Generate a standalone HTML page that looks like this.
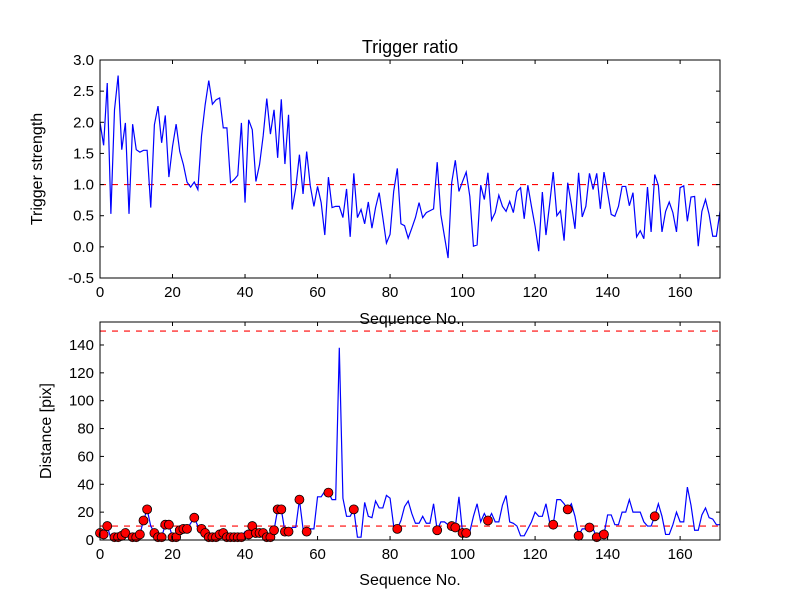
<!DOCTYPE html>
<html><head><meta charset="utf-8"><style>
body{margin:0;background:#fff}
svg text{font-family:"Liberation Sans","DejaVu Sans",sans-serif;fill:#000}
</style></head><body>
<svg id="chart" width="800" height="600" xmlns="http://www.w3.org/2000/svg">
<rect width="800" height="600" fill="#fff"/>
</svg>
<script>
const ratio=[2.0,1.63,2.63,0.53,2.2,2.75,1.56,1.99,0.53,1.97,1.56,1.52,1.55,1.55,0.63,1.96,2.26,1.67,2.11,1.12,1.61,1.97,1.53,1.32,1.04,0.96,1.04,0.92,1.78,2.28,2.67,2.29,2.36,2.39,1.91,1.91,1.03,1.08,1.15,1.99,0.71,2.04,1.88,1.05,1.32,1.78,2.38,1.81,2.2,1.43,2.37,1.33,2.12,0.6,0.95,1.48,0.85,1.53,0.98,0.65,0.97,0.71,0.19,1.12,0.63,0.65,0.65,0.47,0.93,0.16,1.18,0.47,0.6,0.37,0.72,0.3,0.63,0.87,0.47,0.06,0.2,0.89,1.26,0.37,0.34,0.14,0.3,0.47,0.71,0.47,0.55,0.58,0.61,1.36,0.52,0.17,-0.18,1.03,1.39,0.89,1.05,1.2,0.81,0.01,0.03,0.99,0.76,1.19,0.43,0.55,0.83,0.65,0.57,0.73,0.55,0.89,0.95,0.45,0.99,0.65,0.33,-0.07,0.88,0.19,0.68,1.2,0.5,0.58,0.1,1.03,0.68,0.29,1.19,0.48,0.65,1.18,0.92,1.18,0.61,1.2,0.87,0.52,0.49,0.65,0.97,0.97,0.66,0.87,0.16,0.26,0.13,0.96,0.24,1.16,0.99,0.24,0.57,0.72,0.55,0.24,0.95,0.98,0.41,0.8,0.81,0.01,0.57,0.76,0.52,0.17,0.17,0.57];
const distance=[5,4,10,1,2,2,3,5,1,2,2,4,14,22,10,5,2,2,11,11,2,2,7,8,8,12,16,10,8,5,2,2,2,4,5,2,2,2,2,2,6,4,10,5,5,5,2,2,7,22,22,6,6,9,9,29,8,6,8,8,31,31,35,34,29,29,138,30,17,17,22,2,2,27,17,16,28,23,23,32,30,10,8,14,24,28,19,12,12,17,12,12,26,7,13,13,11,10,9,31,5,5,6,17,26,13,19,14,19,13,13,25,32,13,12,10,3,3,8,13,20,17,17,26,13,11,29,29,26,22,26,17,3,8,8,9,8,2,6,4,18,18,11,11,20,20,29,20,20,20,13,10,10,17,26,17,4,4,11,20,13,13,38,25,7,7,18,23,16,15,11,11];
const xTicks=[0,20,40,60,80,100,120,140,160];
const topYTicks=[-0.5,0,0.5,1,1.5,2,2.5,3];
const botYTicks=[0,20,40,60,80,100,120,140];
const ratioThreshold=1, distThreshold=10, distLimit=150;

const NS='http://www.w3.org/2000/svg';
const svg=document.getElementById('chart');
function mk(tag,attrs,parent){const e=document.createElementNS(NS,tag);for(const k in attrs)e.setAttribute(k,attrs[k]);(parent||svg).appendChild(e);return e;}
const L=100,R=720;
const xs=v=>L+(v/171)*(R-L);
const T={top:60,bot:278,min:-0.5,max:3};
const B={top:322,bot:540,min:0,max:156.5};
const ys=(ax,v)=>ax.bot-(v-ax.min)/(ax.max-ax.min)*(ax.bot-ax.top);
const fmtTop=v=>v.toFixed(1);

function axes(ax,yTicks,fmt,name){
  const g=mk('g',{});
  
  
  xTicks.forEach(t=>{
    const x=xs(t);
    mk('line',{x1:x,x2:x,y1:ax.bot,y2:ax.bot-4,stroke:'#000'},g);
    mk('line',{x1:x,x2:x,y1:ax.top,y2:ax.top+4,stroke:'#000'},g);
    const tx=mk('text',{x:x,y:ax.bot+19,'text-anchor':'middle','font-size':'15'},g);
    tx.textContent=t;
    
    
  });
  yTicks.forEach(t=>{
    const y=ys(ax,t);
    mk('line',{x1:L,x2:L+4,y1:y,y2:y,stroke:'#000'},g);
    mk('line',{x1:R,x2:R-4,y1:y,y2:y,stroke:'#000'},g);
    const tx=mk('text',{x:L-6,y:y+5,'text-anchor':'end','font-size':'15'},g);
    tx.textContent=fmt(t);
    
    
  });
}
function frame(ax,name){
  const r=mk('rect',{x:L,y:ax.top,width:R-L,height:ax.bot-ax.top,fill:'none',stroke:'#000','stroke-width':1});
  
  
}
function hline(ax,v,name){
  const l=mk('line',{x1:L,x2:R,y1:ys(ax,v),y2:ys(ax,v),stroke:'#f00','stroke-width':1.2,'stroke-dasharray':'6,6'});
  
  
}
const defs=mk('defs',{});
const c1=mk('clipPath',{id:'ct'},defs);mk('rect',{x:L,y:T.top,width:R-L,height:T.bot-T.top},c1);
const c2=mk('clipPath',{id:'cb'},defs);mk('rect',{x:L,y:B.top,width:R-L,height:B.bot-B.top},c2);

hline(T,ratioThreshold,'ratio-threshold-line');
const gt=mk('g',{'clip-path':'url(#ct)'});
(function(){const p=mk('polyline',{points:ratio.map((v,i)=>xs(i).toFixed(2)+','+ys(T,v).toFixed(2)).join(' '),fill:'none',stroke:'#00f','stroke-width':1.2},gt);

})();
frame(T,'top');axes(T,topYTicks,fmtTop,'top');

const gb=mk('g',{'clip-path':'url(#cb)'});
(function(){
const l1=mk('line',{x1:L,x2:R,y1:ys(B,distThreshold),y2:ys(B,distThreshold),stroke:'#f00','stroke-width':1.2,'stroke-dasharray':'6,6'},gb);


const l2=mk('line',{x1:L,x2:R,y1:ys(B,distLimit),y2:ys(B,distLimit),stroke:'#f00','stroke-width':1.2,'stroke-dasharray':'6,6'},gb);


const p=mk('polyline',{points:distance.map((v,i)=>xs(i).toFixed(2)+','+ys(B,v).toFixed(2)).join(' '),fill:'none',stroke:'#00f','stroke-width':1.2},gb);


})();
distance.forEach((v,i)=>{
  if(ratio[i]>ratioThreshold){
    const c=mk('circle',{cx:xs(i),cy:ys(B,v),r:4.5,fill:'#f00',stroke:'#000','stroke-width':0.8});
    
    
  }
});
frame(B,'bottom');axes(B,botYTicks,v=>String(v),'bottom');

function label(txt,x,y,size,rot,name){
  const t=mk('text',{x:x,y:y,'text-anchor':'middle','font-size':size});
  if(rot)t.setAttribute('transform','rotate(-90 '+x+' '+y+')');
  t.textContent=txt;
  
  
}
label('Trigger ratio',410,53,18,false,'chart-title');
label('Sequence No.',410,324,16,false,'top-x-axis-title');
label('Trigger strength',42,169,16,true,'top-y-axis-title');
label('Sequence No.',410,585,16,false,'bottom-x-axis-title');
label('Distance [pix]',51,431,16,true,'bottom-y-axis-title');
</script>
</body></html>
